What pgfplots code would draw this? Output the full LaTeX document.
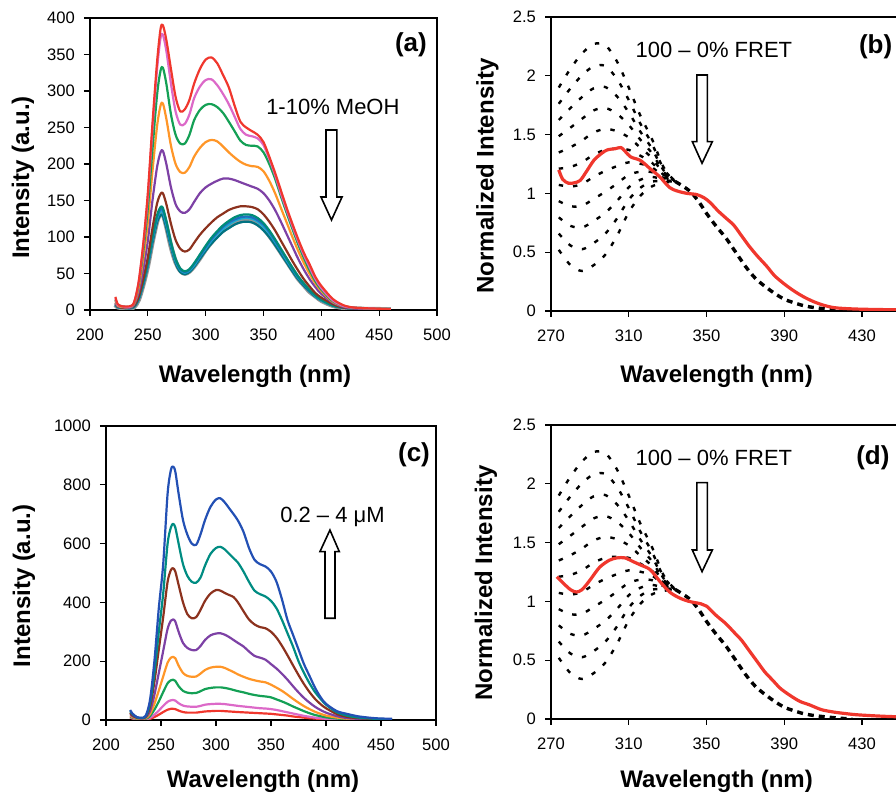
\documentclass[border=0pt]{standalone}
\usepackage{pgfplots}
\pgfplotsset{compat=1.18}
\usepackage{pgfplotstable}
\usepackage{fontspec}
\setmainfont{Liberation Sans}

\definecolor{cRed}{RGB}{240,55,45}
\definecolor{cPink}{RGB}{220,105,200}
\definecolor{cGreen}{RGB}{20,160,85}
\definecolor{cOrange}{RGB}{255,150,40}
\definecolor{cPurple}{RGB}{125,65,165}
\definecolor{cBrown}{RGB}{140,50,30}
\definecolor{cTeal}{RGB}{0,140,120}
\definecolor{cBlueA}{RGB}{30,110,190}
\definecolor{cCyan}{RGB}{25,170,210}
\definecolor{cGrey}{RGB}{150,150,150}
\definecolor{cDTeal}{RGB}{0,115,130}
\definecolor{cBlueC}{RGB}{35,80,180}
\definecolor{cTealC}{RGB}{0,140,130}

\pgfplotstableread{
L R P G O Pu Br C1 C2 C3 C4 C5
222 18 16 14 12 10 9 8 8 7 7 7
224 8 7 7 6 5 5 4 4 4 4 4
228 5 5 5 4 4 3 3 3 3 3 3
234 5 4 4 4 3 3 3 3 3 2 2
238 10 10 9 8 7 6 5 5 5 4 4
242 38 37 34 30 24 18 16 15 15 14 14
246 90 88 80 70 55 42 38 37 36 35 34
250 160 155 140 120 95 72 65 64 62 61 60
254 255 248 220 190 150 112 100 98 96 94 92
258 340 330 295 252 196 146 130 127 125 122 120
261 385 373 328 280 216 159 141 138 135 133 130
263 390 377 332 283 218 160 140 137 134 132 129
266 370 355 310 262 200 145 122 120 117 115 112
270 330 310 268 225 168 118 93 91 89 87 86
274 292 272 240 200 145 96 70 69 67 66 64
278 272 254 228 189 135 84 57 56 55 54 52
282 275 255 228 188 133 80 53 52 51 50 49
286 288 268 240 196 138 83 56 55 54 53 52
290 310 290 260 210 148 92 64 63 61 60 59
295 330 306 274 222 160 103 76 74 73 71 70
300 343 315 281 230 168 112 88 86 84 83 81
305 346 316 282 233 173 120 99 97 95 93 91
310 338 308 278 231 177 127 108 106 104 102 99
315 322 296 270 224 180 132 116 114 111 109 107
320 305 282 258 216 180 137 122 120 117 115 112
325 280 265 245 209 178 140 127 124 122 119 117
330 258 248 232 203 175 142 130 127 125 122 120
335 250 240 226 199 172 142 131 128 126 123 121
340 245 238 225 197 169 141 130 127 125 122 120
345 240 235 224 196 166 138 126 123 121 118 116
350 230 226 216 190 160 131 119 117 114 112 109
355 210 207 200 177 150 121 109 107 105 102 100
360 188 185 180 160 137 109 97 95 93 91 89
365 164 160 156 140 121 95 84 82 81 79 77
370 140 137 133 120 104 81 71 70 68 67 65
375 118 115 111 100 87 67 58 57 56 55 53
380 97 94 90 81 70 54 46 45 44 43 42
385 78 75 71 64 55 42 36 35 35 34 33
390 62 58 54 49 42 32 27 26 26 25 25
395 45 42 39 36 31 23 20 20 19 19 18
400 33 30 28 26 22 17 14 14 13 13 13
410 15 13 12 11 10 8 6 6 6 6 6
420 6 5 5 5 4 3 3 3 3 3 3
430 3 3 3 3 2 2 1.5 1.5 1.4 1.4 1.4
445 2 2 2 2 1 1 1 1 1 1 1
460 1 1 1 1 0.5 0.5 0.5 0.5 0.5 0.5 0.5
}\tabA

\pgfplotstableread{
L B T Br Pu O G Pk R
222 34 30 25 20 15 12 10 8
224 22 20 16 13 10 8 6 5
228 10 9 8 7 5 4 3 2
232 8 7 6 5 4 3 2 2
236 14 12 10 8 6 4 3 2
240 68 55 45 30 20 13 7 4
244 200 160 130 85 55 35 18 10
248 380 300 240 160 100 63 32 18
252 530 430 350 235 148 95 48 27
256 770 600 470 310 195 125 62 35
259 850 655 510 338 212 135 67 38
261 862 667 516 342 215 137 68 38
263 845 655 505 335 210 133 66 37
266 770 600 460 300 185 115 57 32
270 680 530 400 262 160 99 49 27
274 630 490 360 245 150 93 46 25
278 600 470 346 238 147 91 45 25
282 596 467 350 238 148 92 45 25
286 632 485 375 252 158 98 48 27
290 680 525 405 272 170 105 52 29
295 725 565 430 288 178 109 54 30
300 750 585 442 294 181 111 55 31
304 754 589 440 295 181 111 55 31
308 740 580 432 290 177 109 54 30
312 720 565 425 282 170 106 52 29
316 700 550 418 272 163 102 50 28
320 678 535 400 262 155 98 48 27
325 640 505 370 250 147 94 46 26
330 585 470 342 233 140 89 44 25
335 545 440 325 218 135 85 42 24
340 530 428 316 212 131 82 40 23
345 522 420 312 205 128 80 39 22
350 505 405 300 190 120 77 37 21
355 470 380 280 175 110 70 34 19
360 410 340 252 157 99 63 30 17
365 340 295 220 137 86 55 26 15
370 290 250 186 115 72 46 22 12
375 240 200 153 94 59 38 18 10
380 190 160 122 75 47 30 14 8
385 150 125 95 59 37 23 11 6
390 110 95 72 45 28 17 8 5
395 78 72 54 34 21 13 6 3
400 55 52 40 25 15 9 4 2
410 30 26 20 13 8 5 2 1
420 20 14 10 6 4 2 1 1
430 12 8 6 4 2 1 1 0
445 6 4 3 2 1 1 0 0
460 4 2 2 1 1 0 0 0
}\tabC

\pgfplotstableread{
L k0 k1 k2 k3 k4 k5 k6 k7 k8 k9 k10
274 1.90 1.762 1.624 1.486 1.348 1.21 1.072 0.934 0.796 0.658 0.52
280 2.06 1.893 1.726 1.559 1.392 1.225 1.058 0.891 0.724 0.557 0.39
286 2.19 2.005 1.82 1.635 1.45 1.265 1.08 0.895 0.71 0.525 0.34
292 2.27 2.082 1.894 1.706 1.518 1.33 1.142 0.954 0.766 0.578 0.39
298 2.26 2.082 1.904 1.726 1.548 1.37 1.192 1.014 0.836 0.658 0.48
304 2.12 1.972 1.824 1.676 1.528 1.38 1.232 1.084 0.936 0.788 0.64
310 1.90 1.794 1.688 1.582 1.476 1.37 1.264 1.158 1.052 0.946 0.84
316 1.66 1.592 1.524 1.456 1.388 1.32 1.252 1.184 1.116 1.048 0.98
322 1.46 1.42 1.38 1.34 1.30 1.26 1.22 1.18 1.14 1.10 1.06
328 1.22 1.207 1.194 1.181 1.168 1.155 1.142 1.129 1.116 1.103 1.09
334 1.10 1.10 1.10 1.10 1.10 1.10 1.10 1.10 1.10 1.10 1.10
}\tabDots

\pgfplotstableread{
L I
334 1.10
338 1.06
342 1.01
346 0.93
350 0.83
355 0.72
360 0.62
365 0.50
370 0.38
375 0.28
380 0.21
385 0.15
390 0.10
395 0.07
400 0.045
405 0.03
410 0.02
415 0.012
420 0.005
425 0.0
}\tabTail

\pgfplotstableread{
L I
274 1.20
276 1.12
279 1.086
282 1.09
285 1.11
288 1.18
292 1.28
296 1.34
299 1.37
303 1.38
306 1.39
308 1.36
311 1.31
316 1.28
321 1.21
326 1.14
331 1.05
335 1.02
340 1.00
345 0.99
349 0.96
352 0.92
356 0.85
360 0.79
364 0.73
368 0.64
372 0.55
376 0.47
381 0.38
385 0.30
390 0.23
395 0.17
400 0.12
405 0.08
410 0.05
415 0.03
420 0.022
430 0.015
450 0.01
470 0.01
}\tabRedB

\pgfplotstableread{
L I
273 1.21
276 1.16
280 1.10
283 1.08
286 1.10
290 1.18
295 1.29
300 1.35
304 1.37
308 1.37
312 1.34
316 1.31
321 1.27
326 1.17
331 1.08
336 1.03
341 1.00
347 0.98
350 0.96
355 0.88
360 0.81
364 0.74
368 0.67
372 0.58
376 0.49
380 0.40
384 0.33
388 0.26
393 0.20
398 0.15
403 0.12
409 0.08
415 0.06
422 0.045
429 0.034
446 0.02
470 0.015
}\tabRedD

\tikzset{
  blockarrow/.style={draw=black, fill=white, line width=0.8pt},
  dotc/.style={black, line width=1.2pt, dash pattern=on 2.2pt off 5pt},
  tailc/.style={black, line width=1.7pt, dash pattern=on 3pt off 2.5pt},
}
\pgfplotsset{
  panel/.style={
    scale only axis,
    anchor=south west,
    axis line style={line width=1.1pt},
    tick align=outside, xtick pos=left, ytick pos=left,
    major tick length=3pt,
    tick style={black, line width=0.6pt},
    /pgf/number format/assume math mode=true,
    /pgf/number format/1000 sep={},
    tick label style={font=\fontsize{8.3}{10}\selectfont},
    xticklabel style={yshift=-3pt},
    yticklabel style={xshift=-1pt},
    every axis plot/.append style={line width=1.1pt, line join=round, smooth},
  },
}

\begin{document}
\begin{tikzpicture}
\useasboundingbox (0,0) rectangle (448pt,398pt);
\clip (0,0) rectangle (448pt,398pt);

% ---------------- (a)
\begin{axis}[panel, at={(45pt,243pt)}, width=173.5pt, height=146pt,
  xmin=200, xmax=500, ymin=0, ymax=400,
  xtick={200,250,...,500}, ytick={0,50,...,400}]
\addplot[cGrey, line width=2.4pt] table[x=L,y=C4] {\tabA};
\addplot[cDTeal] table[x=L,y=C5] {\tabA};
\addplot[cCyan] table[x=L,y=C3] {\tabA};
\addplot[cBlueA] table[x=L,y=C2] {\tabA};
\addplot[cTeal] table[x=L,y=C1] {\tabA};
\addplot[cBrown] table[x=L,y=Br] {\tabA};
\addplot[cPurple] table[x=L,y=Pu] {\tabA};
\addplot[cOrange] table[x=L,y=O] {\tabA};
\addplot[cGreen] table[x=L,y=G] {\tabA};
\addplot[cPink] table[x=L,y=P] {\tabA};
\addplot[cRed] table[x=L,y=R] {\tabA};
\draw[blockarrow] (axis cs:404,246.6) -- (axis cs:404,154.8) -- (axis cs:399.7,154.8)
  -- (axis cs:408.8,123.3) -- (axis cs:417.9,154.8) -- (axis cs:413.5,154.8)
  -- (axis cs:413.5,246.6) -- cycle;
\node[font=\fontsize{11}{13}\selectfont] at (axis cs:410,278) {1-10\% MeOH};
\node[font=\bfseries\fontsize{13}{15}\selectfont] at (axis cs:477.5,363) {(a)};
\end{axis}

% ---------------- (b)
\begin{axis}[panel, at={(275.5pt,242.5pt)}, width=194.4pt, height=147pt,
  xmin=270, xmax=470, ymin=0, ymax=2.5,
  xtick={270,310,...,430}, ytick={0,0.5,...,2.5}]
\addplot[dotc] table[x=L,y=k0] {\tabDots};
\addplot[dotc] table[x=L,y=k1] {\tabDots};
\addplot[dotc] table[x=L,y=k2] {\tabDots};
\addplot[dotc] table[x=L,y=k3] {\tabDots};
\addplot[dotc] table[x=L,y=k4] {\tabDots};
\addplot[dotc] table[x=L,y=k5] {\tabDots};
\addplot[dotc] table[x=L,y=k6] {\tabDots};
\addplot[dotc] table[x=L,y=k7] {\tabDots};
\addplot[dotc] table[x=L,y=k8] {\tabDots};
\addplot[dotc] table[x=L,y=k9] {\tabDots};
\addplot[dotc] table[x=L,y=k10] {\tabDots};
\addplot[tailc] table[x=L,y=I] {\tabTail};
\addplot[cRed, line width=1.6pt] table[x=L,y=I] {\tabRedB};
\draw[blockarrow] (axis cs:345,2.007) -- (axis cs:345,1.44) -- (axis cs:342.7,1.44)
  -- (axis cs:347.7,1.256) -- (axis cs:353,1.44) -- (axis cs:350.4,1.44)
  -- (axis cs:350.4,2.007) -- cycle;
\node[font=\fontsize{11}{13}\selectfont] at (axis cs:353.8,2.22) {100 – 0\% FRET};
\node[font=\bfseries\fontsize{13}{15}\selectfont] at (axis cs:437,2.25) {(b)};
\end{axis}

% ---------------- (c)
\begin{axis}[panel, at={(53pt,38pt)}, width=165pt, height=147pt,
  xmin=200, xmax=500, ymin=0, ymax=1000,
  xtick={200,250,...,500}, ytick={0,200,...,1000}]
\addplot[cRed] table[x=L,y=R] {\tabC};
\addplot[cPink] table[x=L,y=Pk] {\tabC};
\addplot[cGreen] table[x=L,y=G] {\tabC};
\addplot[cOrange] table[x=L,y=O] {\tabC};
\addplot[cPurple] table[x=L,y=Pu] {\tabC};
\addplot[cBrown] table[x=L,y=Br] {\tabC};
\addplot[cTealC] table[x=L,y=T] {\tabC};
\addplot[cBlueC] table[x=L,y=B] {\tabC};
\draw[blockarrow] (axis cs:399.1,346) -- (axis cs:399.1,572.6) -- (axis cs:394.5,572.6)
  -- (axis cs:403.6,646) -- (axis cs:412.1,572.6) -- (axis cs:408.2,572.6)
  -- (axis cs:408.2,346) -- cycle;
\node[font=\fontsize{11}{13}\selectfont] at (axis cs:405.9,691) {0.2 – 4 μM};
\node[font=\bfseries\fontsize{13}{15}\selectfont] at (axis cs:480,901) {(c)};
\end{axis}

% ---------------- (d)
\begin{axis}[panel, at={(275.5pt,38.5pt)}, width=194.4pt, height=147pt,
  xmin=270, xmax=470, ymin=0, ymax=2.5,
  xtick={270,310,...,430}, ytick={0,0.5,...,2.5}]
\addplot[dotc] table[x=L,y=k0] {\tabDots};
\addplot[dotc] table[x=L,y=k1] {\tabDots};
\addplot[dotc] table[x=L,y=k2] {\tabDots};
\addplot[dotc] table[x=L,y=k3] {\tabDots};
\addplot[dotc] table[x=L,y=k4] {\tabDots};
\addplot[dotc] table[x=L,y=k5] {\tabDots};
\addplot[dotc] table[x=L,y=k6] {\tabDots};
\addplot[dotc] table[x=L,y=k7] {\tabDots};
\addplot[dotc] table[x=L,y=k8] {\tabDots};
\addplot[dotc] table[x=L,y=k9] {\tabDots};
\addplot[dotc] table[x=L,y=k10] {\tabDots};
\addplot[tailc] table[x=L,y=I] {\tabTail};
\addplot[cRed, line width=1.6pt] table[x=L,y=I] {\tabRedD};
\draw[blockarrow] (axis cs:345,2.01) -- (axis cs:345,1.437) -- (axis cs:342.7,1.437)
  -- (axis cs:347.7,1.253) -- (axis cs:353,1.437) -- (axis cs:350.4,1.437)
  -- (axis cs:350.4,2.01) -- cycle;
\node[font=\fontsize{11}{13}\selectfont] at (axis cs:353.8,2.217) {100 – 0\% FRET};
\node[font=\bfseries\fontsize{13}{15}\selectfont] at (axis cs:435.6,2.22) {(d)};
\end{axis}

% axis labels
\node[font=\bfseries\fontsize{12}{14}\selectfont] at (127.5pt,210pt) {Wavelength (nm)};
\node[font=\bfseries\fontsize{12}{14}\selectfont] at (358.3pt,210pt) {Wavelength (nm)};
\node[font=\bfseries\fontsize{12}{14}\selectfont] at (131.5pt,7.5pt) {Wavelength (nm)};
\node[font=\bfseries\fontsize{12}{14}\selectfont] at (358.3pt,7.5pt) {Wavelength (nm)};
\node[font=\bfseries\fontsize{12}{14}\selectfont, rotate=90] at (11.5pt,309.25pt) {Intensity (a.u.)};
\node[font=\bfseries\fontsize{12}{14}\selectfont, rotate=90] at (12pt,105pt) {Intensity (a.u.)};
\node[font=\bfseries\fontsize{12}{14}\selectfont, rotate=90] at (243.75pt,310pt) {Normalized Intensity};
\node[font=\bfseries\fontsize{12}{14}\selectfont, rotate=90] at (243pt,106.5pt) {Normalized Intensity};
\end{tikzpicture}
\end{document}
